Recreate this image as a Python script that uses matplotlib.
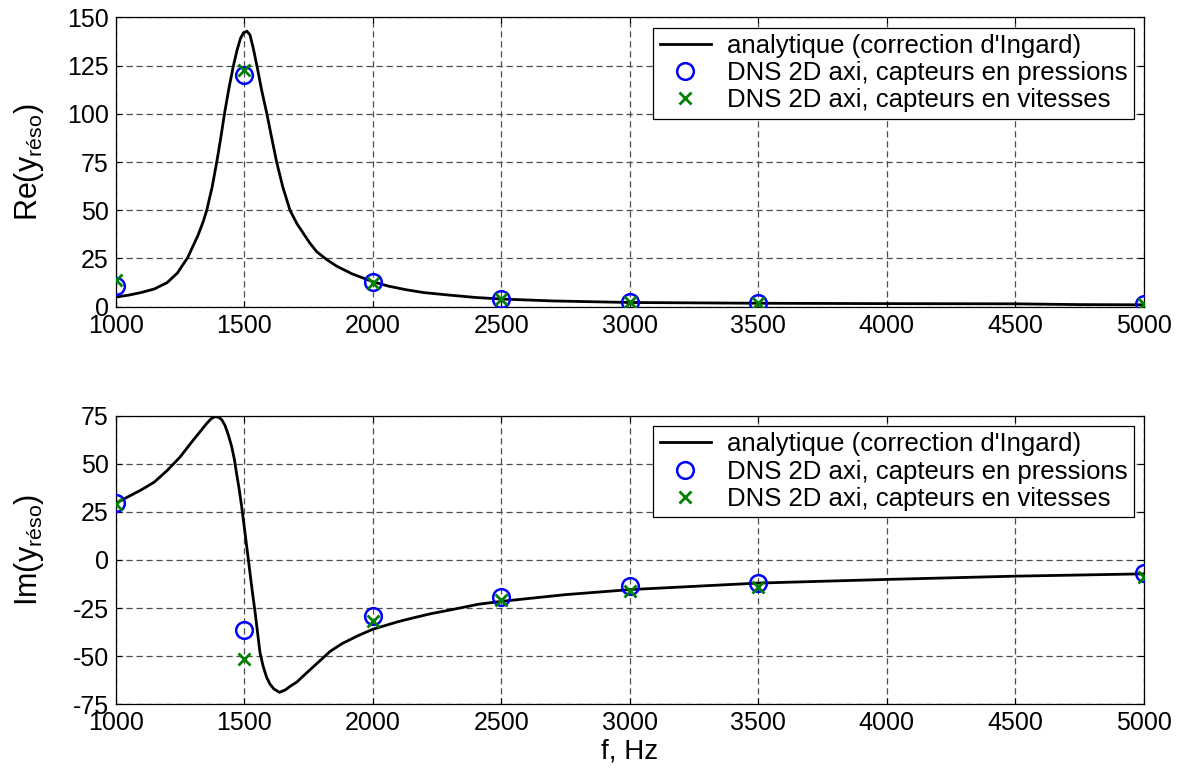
import matplotlib
matplotlib.use("Agg")
import matplotlib.pyplot as plt

plt.rcParams['font.family'] = ['Liberation Sans', 'DejaVu Sans']
plt.rcParams['mathtext.fontset'] = 'custom'
plt.rcParams['mathtext.rm'] = 'Liberation Sans'
plt.rcParams['mathtext.it'] = 'Liberation Sans'
plt.rcParams['axes.unicode_minus'] = False

# Analytic admittance of the resonator (Ingard end correction), sampled in Hz
f_ana_re = [1000, 1050, 1100, 1150, 1200, 1240, 1280, 1320, 1340, 1354, 1375,
            1393, 1408, 1423, 1440, 1458, 1472, 1485, 1497, 1510, 1522, 1535,
            1549, 1568, 1588, 1606, 1626, 1650, 1678, 1705, 1730, 1755, 1782,
            1820, 1860, 1920, 2000, 2060, 2130, 2200, 2300, 2400, 2500, 2700,
            3000, 3500, 4000, 4500, 4750, 5000]
re_ana = [5.0, 6.0, 7.4, 9.2, 12.5, 17.5, 25.5, 37.0, 44.0, 50.0, 62.0,
          75.0, 87.0, 100.0, 113.0, 125.0, 133.0, 139.0, 142.0, 142.8, 141.0, 134.0,
          125.0, 112.0, 100.0, 88.0, 75.0, 62.0, 50.0, 43.0, 38.0, 33.0, 28.5,
          24.5, 21.0, 17.0, 13.0, 10.7, 8.8, 7.3, 6.0, 4.8, 4.0, 3.0,
          2.2, 1.8, 1.6, 1.5, 1.1, 1.0]

f_ana_im = [1000, 1050, 1100, 1150, 1200, 1250, 1302, 1330, 1354, 1372, 1386,
            1400, 1412, 1425, 1438, 1451, 1462, 1470, 1480, 1490, 1503, 1518,
            1530, 1542, 1552, 1561, 1573, 1587, 1600, 1615, 1637, 1660, 1680,
            1704, 1740, 1781, 1834, 1880, 1940, 2000, 2050, 2100, 2160, 2223,
            2300, 2411, 2500, 2750, 3000, 3500, 4000, 4500, 5000]
im_ana = [29.5, 33.0, 36.5, 40.5, 46.5, 53.5, 62.4, 67.0, 71.0, 73.5, 74.5,
          74.2, 73.0, 70.0, 65.0, 59.0, 52.0, 45.0, 37.0, 27.7, 14.0, -2.0,
          -15.0, -27.0, -38.0, -48.0, -55.0, -61.0, -64.5, -67.0, -68.8, -67.5, -65.5,
          -63.5, -59.0, -54.0, -47.5, -43.5, -39.5, -36.0, -34.0, -32.0, -30.0, -28.0,
          -26.0, -23.0, -21.5, -18.0, -15.4, -12.0, -10.1, -8.4, -7.2]

# DNS 2D axisymmetric results
f_dns = [1000, 1500, 2000, 2500, 3000, 3500, 5000]
re_pression = [11.0, 120.0, 13.0, 4.0, 2.5, 2.0, 1.5]
re_vitesse = [14.0, 122.5, 12.5, 4.0, 2.5, 2.0, 1.5]
im_pression = [29.5, -36.3, -28.9, -19.0, -13.5, -12.0, -7.0]
im_vitesse = [29.0, -51.4, -31.8, -21.0, -16.0, -14.0, -9.0]

xticks = [1000, 1500, 2000, 2500, 3000, 3500, 4000, 4500, 5000]
re_ticks = [0, 25, 50, 75, 100, 125, 150]
im_ticks = [-75, -50, -25, 0, 25, 50, 75]

lab_ana = "analytique (correction d'Ingard)"
lab_p = "DNS 2D axi, capteurs en pressions"
lab_v = "DNS 2D axi, capteurs en vitesses"

fig = plt.figure(figsize=(11.81, 7.73), dpi=100)
ax1 = fig.add_axes([0.098, 0.6032, 0.8706, 0.3744])
ax2 = fig.add_axes([0.098, 0.0889, 0.8706, 0.3733])


def style(ax, yticks):
    ax.set_xlim(1000, 5000)
    ax.set_xticks(xticks)
    ax.set_ylim(yticks[0], yticks[-1])
    ax.set_yticks(yticks)
    ax.grid(True, color='0.3', linestyle=(0, (5, 3)), linewidth=0.9)
    ax.tick_params(direction='in', length=4, width=0.8, top=True, right=True,
                   labelsize=18, pad=5)
    for s in ax.spines.values():
        s.set_linewidth(0.9)
        s.set_color('black')


for ax, fa, ya, yp, yv, yt in [
        (ax1, f_ana_re, re_ana, re_pression, re_vitesse, re_ticks),
        (ax2, f_ana_im, im_ana, im_pression, im_vitesse, im_ticks)]:
    ax.plot(fa, ya, color='black', lw=2.0, label=lab_ana, zorder=3)
    ax.plot(f_dns, yp, linestyle='none', marker='o', markersize=12,
            markerfacecolor='none', markeredgecolor='blue', markeredgewidth=1.8,
            label=lab_p, zorder=4)
    ax.plot(f_dns, yv, linestyle='none', marker='x', markersize=9,
            color='green', markeredgewidth=2.0, label=lab_v, zorder=5)
    style(ax, yt)
    leg = ax.legend(loc='upper right', fontsize=18.5, fancybox=False,
                    framealpha=1, edgecolor='black', borderaxespad=0.4,
                    handlelength=2.0, labelspacing=0.12, borderpad=0.25,
                    handletextpad=0.6)
    leg.get_frame().set_linewidth(0.9)

ax1.set_ylabel(r'$\mathrm{Re(y_{réso})}$', fontsize=22)
ax2.set_ylabel(r'$\mathrm{Im(y_{réso})}$', fontsize=22)
ax1.yaxis.set_label_coords(-0.068, 0.5)
ax2.yaxis.set_label_coords(-0.068, 0.535)
ax2.set_xlabel('f, Hz', fontsize=20, labelpad=2)

fig.savefig('out.png', dpi=100)
